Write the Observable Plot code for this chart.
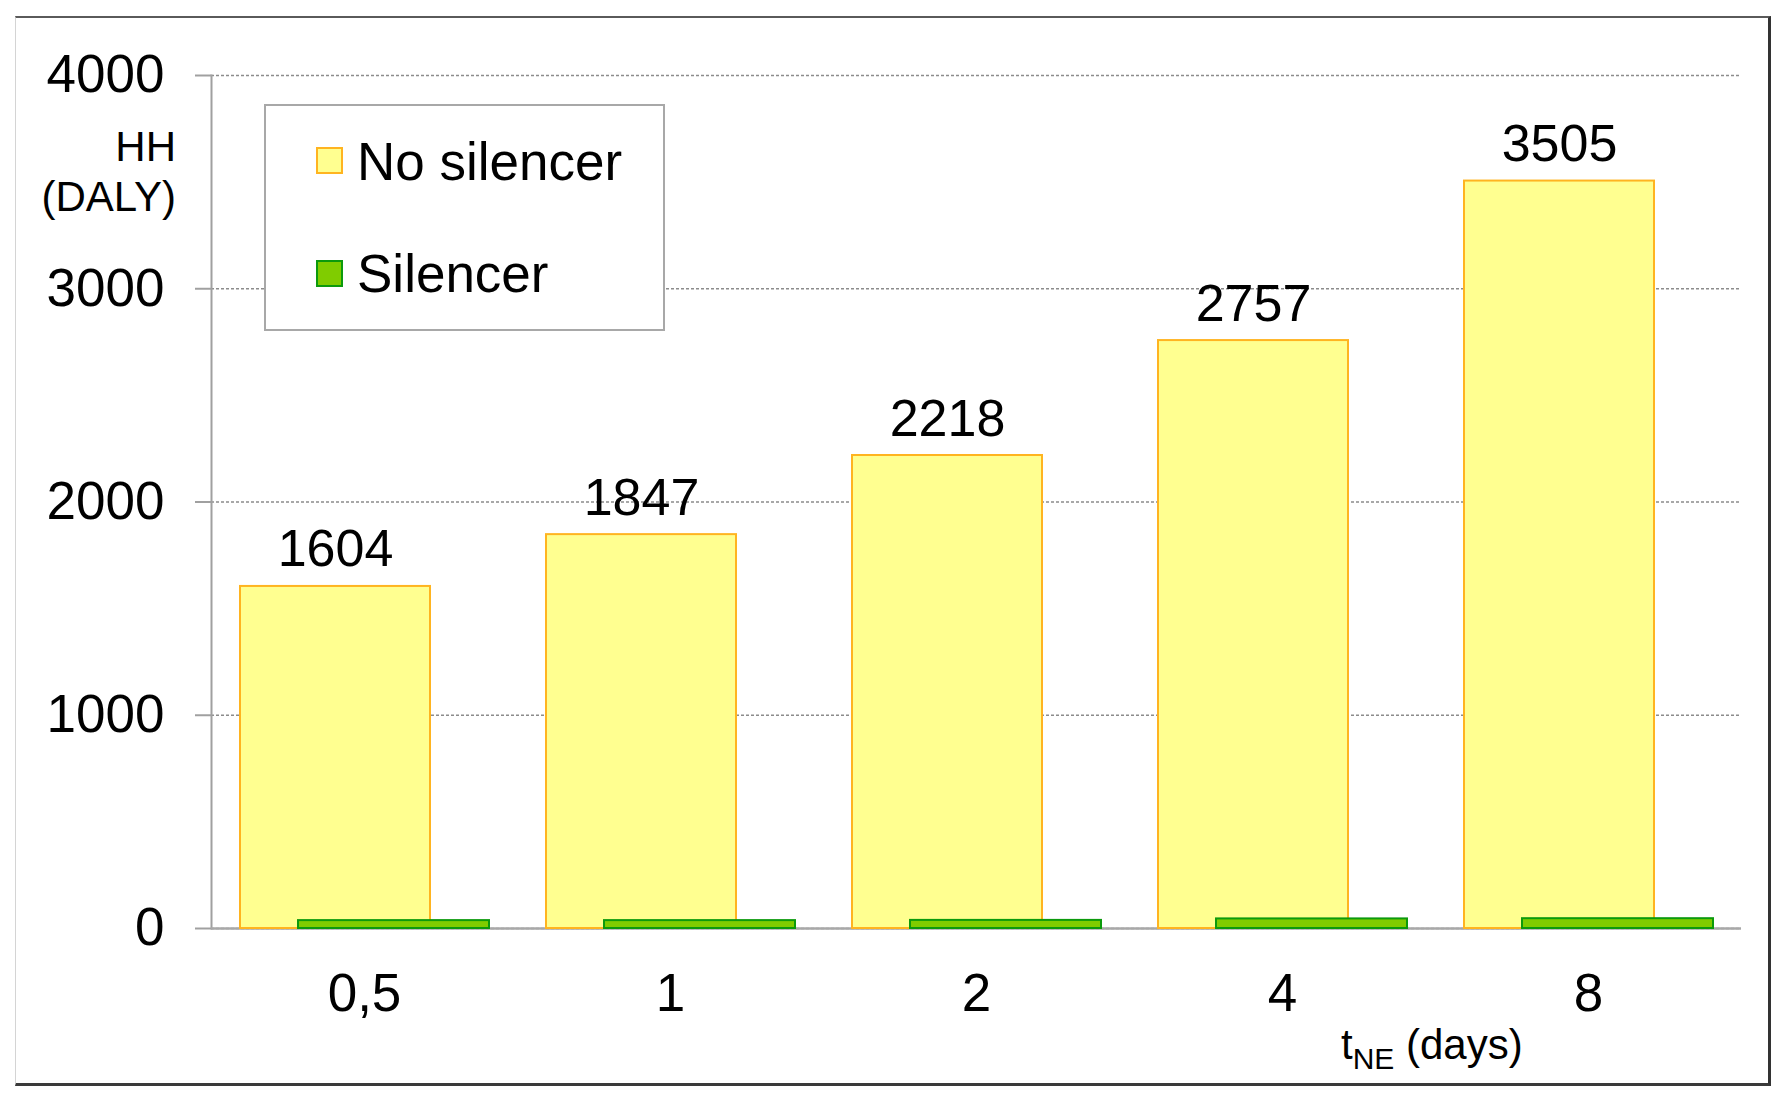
<!DOCTYPE html>
<html>
<head>
<meta charset="utf-8">
<script src="https://cdn.jsdelivr.net/npm/d3@7"></script>
<script src="https://cdn.jsdelivr.net/npm/@observablehq/plot@0.6"></script>
<style>
  body { margin: 0; background: #fff; font-family: "Liberation Sans", Arial, sans-serif; }
  #wrap { position: relative; width: 1790px; height: 1109px; overflow: hidden; }
  #frame {
    position: absolute; left: 15px; top: 16px; width: 1756px; height: 1070px;
    box-sizing: border-box;
    border-top: 2px solid #5a5a5a; border-right: 3px solid #333;
    border-bottom: 3px solid #3a3a3a; border-left: 1px solid #d4d4d4;
    pointer-events: none;
  }
  svg { position: absolute; left: 0; top: 0; }
</style>
</head>
<body>
<div id="wrap"><div id="frame"></div></div>
<script>
const categories = ["0,5", "1", "2", "4", "8"];
const noSilencer = [1604, 1847, 2218, 2757, 3505];
const silencer = [37, 37, 38, 45, 46];
const yTicks = [0, 1000, 2000, 3000, 4000];
const seriesNames = ["No silencer", "Silencer"];
const yLabelLines = ["HH", "(DALY)"];

const rowsA = categories.map((c, i) => ({cat: c, value: noSilencer[i]}));
const rowsB = categories.map((c, i) => ({cat: c, value: silencer[i]}));

const FONT = "Liberation Sans, Arial, sans-serif";

const chart = Plot.plot({
  width: 1790,
  height: 1109,
  marginLeft: 211,
  marginRight: 49,
  marginTop: 75,
  marginBottom: 181,
  style: {fontFamily: FONT, background: "transparent", color: "#000", overflow: "visible"},
  x: {type: "band", domain: categories, padding: 0, label: null},
  y: {domain: [0, 4000], label: null},
  marks: [
    Plot.gridY(yTicks, {stroke: "#8c8c8c", strokeOpacity: 1, strokeDasharray: "3,2", strokeWidth: 1.3}),
    Plot.axisY(yTicks, {tickSize: 16, tickPadding: 31, stroke: "#a0a0a0", strokeWidth: 2, fill: "#000",
                        fontSize: 53, tickFormat: d => String(d), label: null}),
    Plot.axisX({tickSize: 0, tickPadding: 45, fontSize: 53, fill: "#000", label: null}),
    Plot.frame({anchor: "left", stroke: "#a0a0a0", strokeWidth: 2}),
    Plot.ruleY([0], {stroke: "#a8a8a8", strokeWidth: 2.5}),
    Plot.barY(rowsA, {x: "cat", y: "value", fill: "#ffff90", stroke: "#ffb420", strokeWidth: 2,
                      insetLeft: 29, insetRight: 87}),
    Plot.barY(rowsB, {x: "cat", y: "value", fill: "#80cc00", stroke: "#0c9a0c", strokeWidth: 2,
                      insetLeft: 87, insetRight: 28}),
    Plot.text(rowsA, {x: "cat", y: "value", text: d => String(d.value), dx: -29, dy: -20,
                      lineAnchor: "bottom", fontSize: 52, fill: "#000"})
  ]
});

document.getElementById("wrap").insertBefore(chart, document.getElementById("frame"));

const svg = d3.select(chart);

// Y axis label
const yl = svg.append("text").attr("font-family", FONT).attr("font-size", 42)
  .attr("text-anchor", "end").attr("fill", "#000");
yl.append("tspan").attr("x", 176).attr("y", 161).text(yLabelLines[0]);
yl.append("tspan").attr("x", 176).attr("y", 211).text(yLabelLines[1]);

// X axis label with subscript
const xl = svg.append("text").attr("font-family", FONT).attr("font-size", 42)
  .attr("text-anchor", "start").attr("x", 1341).attr("y", 1059).attr("fill", "#000");
xl.append("tspan").text("t");
xl.append("tspan").attr("font-size", 30).attr("dy", 10).text("NE");
xl.append("tspan").attr("dy", -10).text(" (days)");

// Legend
const lg = svg.append("g");
lg.append("rect").attr("x", 265).attr("y", 105).attr("width", 399).attr("height", 225)
  .attr("fill", "#fff").attr("stroke", "#a8a8a8").attr("stroke-width", 2);
const swatches = [
  {fill: "#ffff90", stroke: "#ffb420", y: 148, ty: 180},
  {fill: "#80cc00", stroke: "#0c9a0c", y: 261, ty: 292}
];
swatches.forEach((s, i) => {
  lg.append("rect").attr("x", 317).attr("y", s.y).attr("width", 25).attr("height", 25)
    .attr("fill", s.fill).attr("stroke", s.stroke).attr("stroke-width", 2);
  lg.append("text").attr("x", 357).attr("y", s.ty).attr("font-family", FONT)
    .attr("text-anchor", "start").attr("font-size", 53).attr("fill", "#000").text(seriesNames[i]);
});
</script>
</body>
</html>
